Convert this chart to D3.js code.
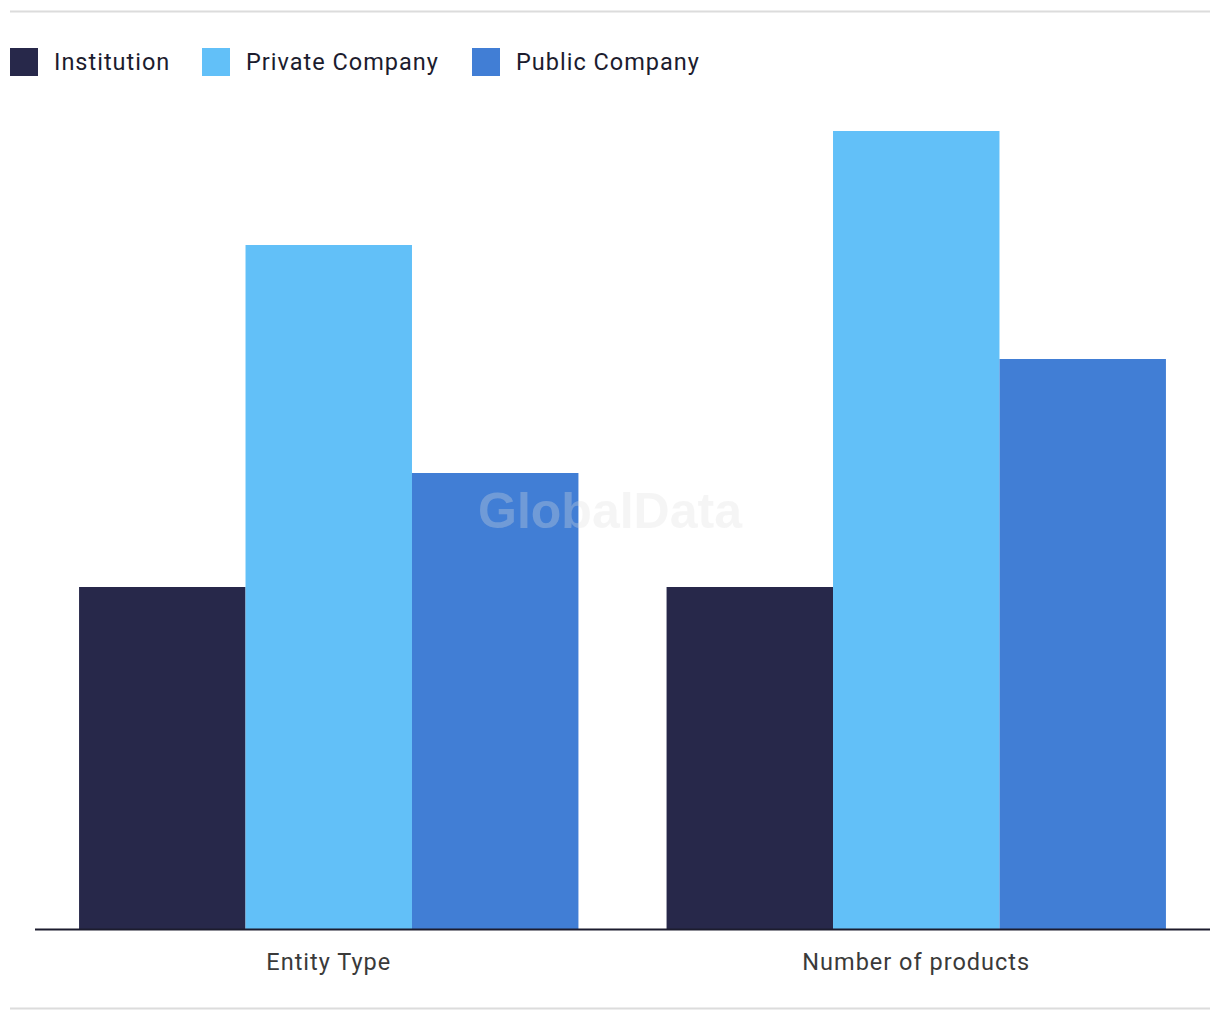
<!DOCTYPE html>
<html>
<head>
<meta charset="utf-8">
<script src="https://cdn.jsdelivr.net/npm/d3@7"></script>
<style>
  body { margin: 0; background: #fff; }
  svg text { font-family: Roboto, "Noto Sans", sans-serif; }
</style>
</head>
<body>
<div id="chart"></div>
<script>
// data
var categories = ["Entity Type", "Number of products"]
var seriesNames = ["Institution", "Private Company", "Public Company"]
var institution = [3, 3]
var privateCompany = [6, 7]
var publicCompany = [4, 5]

var colors = ["#27284a", "#62c0f8", "#417ed5"]

const WIDTH = 1220
const HEIGHT = 1020
const BASE_Y = 929

var svg = d3.select("#chart").append("svg")
    .attr("width", WIDTH)
    .attr("height", HEIGHT)

// top and bottom rules
svg.append("line")
    .attr("x1", 10).attr("x2", 1210)
    .attr("y1", 11.5).attr("y2", 11.5)
    .style("stroke", "#dcdcdc").style("stroke-width", 2)

svg.append("line")
    .attr("x1", 10).attr("x2", 1210)
    .attr("y1", 1008.5).attr("y2", 1008.5)
    .style("stroke", "#dcdcdc").style("stroke-width", 2)

// scales
var x0 = d3.scaleBand()
    .domain(categories)
    .range([35, 1210])
    .paddingInner(0.15)
    .paddingOuter(0.075)

var x1 = d3.scaleBand()
    .domain(seriesNames)
    .range([0, x0.bandwidth()])

var y = d3.scaleLinear()
    .domain([0, 7])
    .range([BASE_Y, 131])

var color = d3.scaleOrdinal()
    .domain(seriesNames)
    .range(colors)

var rows = categories.map(function(c, i) {
    return {
        category: c,
        values: [
            { key: seriesNames[0], value: institution[i] },
            { key: seriesNames[1], value: privateCompany[i] },
            { key: seriesNames[2], value: publicCompany[i] }
        ]
    }
})

// bars
var groups = svg.append("g").attr("class", "bars")
    .selectAll("g")
    .data(rows)
    .enter()
    .append("g")
    .attr("transform", d => "translate(" + x0(d.category) + ",0)")

groups.selectAll("rect")
    .data(d => d.values)
    .enter()
    .append("rect")
    .attr("x", d => x1(d.key))
    .attr("y", d => y(d.value))
    .attr("width", x1.bandwidth())
    .attr("height", d => BASE_Y - y(d.value))
    .style("fill", d => color(d.key))

// watermark
svg.append("text")
    .attr("x", 610)
    .attr("y", 528)
    .style("text-anchor", "middle")
    .style("font-family", "'Liberation Sans', Arial, sans-serif")
    .style("font-weight", "bold")
    .style("font-size", "50px")
    .style("fill", "#dddddd")
    .style("fill-opacity", 0.3)
    .text("GlobalData")

// x axis
var xAxis = svg.append("g")
    .attr("transform", "translate(0," + BASE_Y + ")")
    .call(d3.axisBottom(x0).tickSize(0).tickPadding(0))

xAxis.select(".domain")
    .attr("d", "M35,0.5H1210")
    .style("stroke", "#1c1c2e")
    .style("stroke-width", 2)

xAxis.selectAll("text")
    .attr("dy", null)
    .attr("y", 41)
    .style("font-family", "Roboto, 'Noto Sans', sans-serif")
    .style("font-size", "23.5px")
    .style("letter-spacing", "1px")
    .style("fill", "#3a3a3a")

// legend
var legendX = [10, 202, 472]
var legend = svg.append("g").attr("class", "legend")
    .selectAll("g")
    .data(seriesNames)
    .enter()
    .append("g")
    .attr("transform", (d, i) => "translate(" + legendX[i] + ",48)")

legend.append("rect")
    .attr("width", 28)
    .attr("height", 28)
    .style("fill", d => color(d))

legend.append("text")
    .attr("x", 44)
    .attr("y", 22)
    .style("font-size", "23.5px")
    .style("letter-spacing", "1px")
    .style("fill", "#1c1c2e")
    .text(d => d)
</script>
</body>
</html>
